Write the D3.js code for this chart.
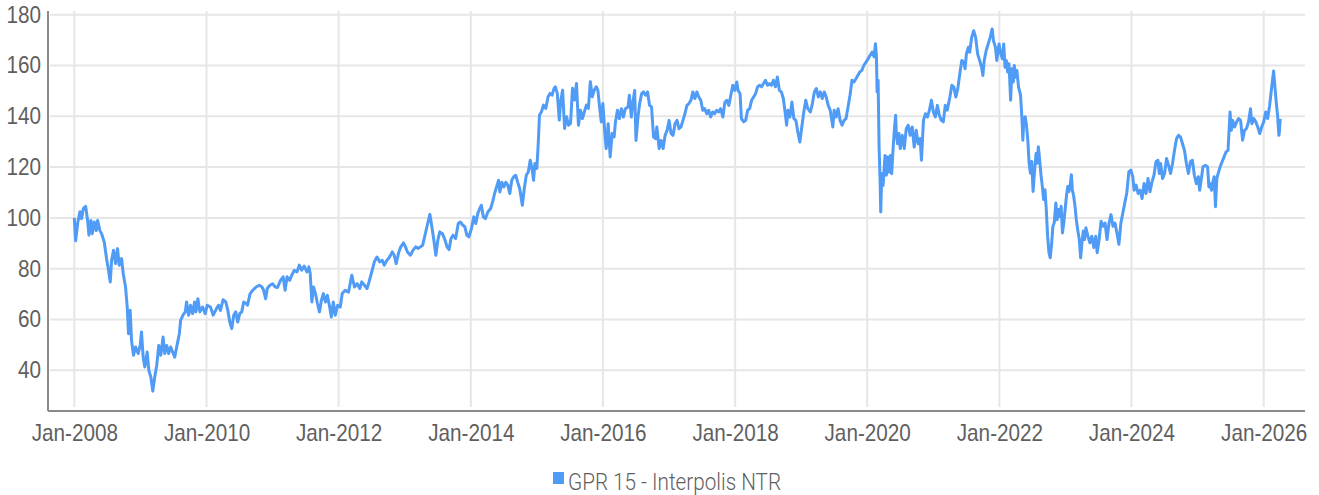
<!DOCTYPE html>
<html>
<head>
<meta charset="utf-8">
<script src="https://cdn.jsdelivr.net/npm/d3@7"></script>
<style>
  body { margin: 0; background: #fff; }
  svg { display: block; font-family: "Roboto", "Liberation Sans", sans-serif; font-weight: 300; }
</style>
</head>
<body>
<svg id="chart" width="1319" height="495"></svg>
<script>
// Series name for the legend
const SERIES_NAME = "GPR 15 - Interpolis NTR";

// Dates as decimal years
const years = [
  2008.00, 2008.02, 2008.05, 2008.085, 2008.11, 2008.136, 2008.171, 2008.201, 2008.221, 2008.251,
  2008.271, 2008.302, 2008.332, 2008.352, 2008.387, 2008.412, 2008.452, 2008.487, 2008.513, 2008.543,
  2008.563, 2008.593, 2008.623, 2008.653, 2008.678, 2008.714, 2008.739, 2008.774, 2008.799, 2008.819,
  2008.844, 2008.864, 2008.894, 2008.925, 2008.965, 2008.995, 2009.015, 2009.040, 2009.065, 2009.101,
  2009.126, 2009.156, 2009.186, 2009.216, 2009.246, 2009.276, 2009.307, 2009.342, 2009.367, 2009.397,
  2009.427, 2009.457, 2009.487, 2009.518, 2009.558, 2009.588, 2009.608, 2009.643, 2009.678, 2009.698,
  2009.729, 2009.759, 2009.789, 2009.819, 2009.839, 2009.869, 2009.899, 2009.940, 2009.980, 2010.01,
  2010.060, 2010.101, 2010.151, 2010.181, 2010.211, 2010.251, 2010.291, 2010.322, 2010.352, 2010.382,
  2010.412, 2010.442, 2010.472, 2010.503, 2010.533, 2010.563, 2010.603,
  2010.62, 2010.66, 2010.70, 2010.75, 2010.80, 2010.84, 2010.865, 2010.895, 2010.92, 2010.96,
  2011.00, 2011.04, 2011.075, 2011.12, 2011.16, 2011.19, 2011.22, 2011.26, 2011.29, 2011.33,
  2011.37, 2011.405, 2011.44, 2011.48, 2011.52, 2011.55, 2011.57, 2011.595, 2011.62, 2011.65,
  2011.68, 2011.71, 2011.74, 2011.77, 2011.80, 2011.83, 2011.865, 2011.89, 2011.92, 2011.95,
  2011.985, 2012.025, 2012.055, 2012.10, 2012.15, 2012.20, 2012.24, 2012.28, 2012.32, 2012.35,
  2012.39, 2012.43, 2012.46, 2012.50, 2012.54, 2012.58, 2012.62, 2012.66, 2012.69, 2012.73,
  2012.77, 2012.81, 2012.84, 2012.87, 2012.91, 2012.94, 2012.98, 2013.01, 2013.04, 2013.085,
  2013.125, 2013.165, 2013.205,
  2013.27, 2013.30, 2013.34, 2013.38, 2013.41, 2013.44, 2013.47, 2013.50, 2013.53, 2013.57,
  2013.61, 2013.64, 2013.67, 2013.70, 2013.73, 2013.77, 2013.81, 2013.84, 2013.88, 2013.91,
  2013.94, 2013.97, 2014.01, 2014.045, 2014.075, 2014.105, 2014.135, 2014.16, 2014.19, 2014.22,
  2014.26, 2014.30, 2014.33, 2014.36, 2014.39, 2014.42, 2014.44, 2014.47, 2014.50, 2014.53,
  2014.56, 2014.59, 2014.62, 2014.65, 2014.68, 2014.71, 2014.74, 2014.78, 2014.81, 2014.84,
  2014.87, 2014.90, 2014.93, 2014.95, 2014.97, 2015.00, 2015.02, 2015.04, 2015.07, 2015.10,
  2015.135, 2015.17, 2015.20, 2015.23, 2015.26, 2015.28, 2015.31, 2015.34, 2015.36, 2015.39,
  2015.42, 2015.45, 2015.48, 2015.51, 2015.54, 2015.57, 2015.60, 2015.63, 2015.66, 2015.69,
  2015.72, 2015.75, 2015.78, 2015.81, 2015.84, 2015.87,
  2015.90, 2015.925, 2015.95, 2015.975, 2016.00, 2016.03, 2016.05, 2016.08, 2016.11, 2016.14,
  2016.17, 2016.19, 2016.22, 2016.25, 2016.28, 2016.31, 2016.34, 2016.38, 2016.40, 2016.43,
  2016.45, 2016.48, 2016.50, 2016.53, 2016.555, 2016.585, 2016.615, 2016.645, 2016.675, 2016.705,
  2016.735, 2016.765, 2016.795, 2016.815, 2016.85, 2016.88, 2016.91, 2016.94, 2016.97, 2017.00,
  2017.03, 2017.06, 2017.09, 2017.12, 2017.15, 2017.18, 2017.21, 2017.24, 2017.27, 2017.30,
  2017.33, 2017.36, 2017.39, 2017.42, 2017.45, 2017.48, 2017.51, 2017.54, 2017.57, 2017.60,
  2017.63, 2017.66, 2017.69, 2017.72, 2017.75, 2017.78, 2017.815, 2017.845, 2017.875, 2017.905,
  2017.935, 2017.965, 2017.995, 2018.025, 2018.045, 2018.075, 2018.095, 2018.13, 2018.16, 2018.19,
  2018.22, 2018.25, 2018.28, 2018.31, 2018.34, 2018.37, 2018.40, 2018.43, 2018.46, 2018.49,
  2018.52,
  2018.55, 2018.58, 2018.61, 2018.64, 2018.67, 2018.70, 2018.73, 2018.76, 2018.78, 2018.80,
  2018.83, 2018.86, 2018.89, 2018.92, 2018.95, 2018.98, 2019.01, 2019.04, 2019.07, 2019.10,
  2019.14, 2019.17, 2019.20, 2019.23, 2019.26, 2019.29, 2019.32, 2019.35, 2019.38, 2019.41,
  2019.44, 2019.46, 2019.48, 2019.50, 2019.53, 2019.56, 2019.59, 2019.62, 2019.65, 2019.68,
  2019.71, 2019.74, 2019.77, 2019.80, 2019.83, 2019.86, 2019.89, 2019.92, 2019.95, 2019.985,
  2020.015, 2020.045, 2020.075, 2020.105, 2020.125, 2020.14, 2020.15, 2020.165, 2020.18, 2020.195,
  2020.205, 2020.22, 2020.24, 2020.27, 2020.29, 2020.31, 2020.33, 2020.35, 2020.37, 2020.39,
  2020.41, 2020.43, 2020.44, 2020.46, 2020.48, 2020.50, 2020.53, 2020.56, 2020.59, 2020.62,
  2020.65, 2020.68, 2020.71, 2020.74, 2020.77, 2020.80, 2020.82, 2020.85, 2020.88, 2020.91,
  2020.94, 2020.97, 2021.00, 2021.03, 2021.06, 2021.09, 2021.12, 2021.15, 2021.18, 2021.21,
  2021.25, 2021.28, 2021.31, 2021.34, 2021.37, 2021.40, 2021.43, 2021.46, 2021.48, 2021.50,
  2021.53, 2021.55, 2021.58, 2021.61, 2021.64, 2021.67, 2021.70, 2021.73, 2021.75, 2021.77,
  2021.80, 2021.83, 2021.86, 2021.89, 2021.91, 2021.94, 2021.96, 2021.995, 2022.015, 2022.045,
  2022.065, 2022.085, 2022.105, 2022.125, 2022.145, 2022.17, 2022.19, 2022.21, 2022.225, 2022.245,
  2022.265, 2022.29, 2022.32, 2022.34, 2022.355, 2022.37, 2022.39, 2022.41, 2022.43, 2022.45,
  2022.47, 2022.49, 2022.51, 2022.53, 2022.555, 2022.57, 2022.59, 2022.61, 2022.63, 2022.65,
  2022.67, 2022.69, 2022.71, 2022.73, 2022.75, 2022.77, 2022.79, 2022.81, 2022.83, 2022.855,
  2022.875, 2022.895, 2022.915, 2022.935, 2022.955, 2022.975, 2022.995, 2023.015, 2023.035, 2023.055,
  2023.075, 2023.09, 2023.105, 2023.125, 2023.145, 2023.165, 2023.185, 2023.21, 2023.23, 2023.25,
  2023.27, 2023.29, 2023.31, 2023.34, 2023.37, 2023.40, 2023.43, 2023.46, 2023.48, 2023.51,
  2023.54, 2023.57, 2023.60, 2023.63, 2023.66, 2023.69, 2023.72, 2023.75, 2023.78, 2023.81,
  2023.84, 2023.87, 2023.90, 2023.93, 2023.96, 2023.99,
  2024.02, 2024.04, 2024.07, 2024.10, 2024.13, 2024.16, 2024.19, 2024.22, 2024.25, 2024.28,
  2024.31, 2024.34, 2024.37, 2024.40, 2024.42, 2024.44, 2024.47, 2024.50, 2024.53, 2024.56,
  2024.59, 2024.62, 2024.65, 2024.68, 2024.71, 2024.74, 2024.77, 2024.80, 2024.83, 2024.86,
  2024.89, 2024.92, 2024.95, 2024.98, 2025.01, 2025.03, 2025.06, 2025.08, 2025.12, 2025.15,
  2025.17, 2025.19, 2025.21, 2025.23, 2025.25, 2025.27, 2025.29, 2025.31, 2025.34, 2025.37,
  2025.40, 2025.43, 2025.46, 2025.49, 2025.51, 2025.53, 2025.56, 2025.59, 2025.62, 2025.65,
  2025.68, 2025.71, 2025.74, 2025.77, 2025.80, 2025.82, 2025.85, 2025.88, 2025.91, 2025.94,
  2025.97, 2026.00, 2026.03, 2026.06, 2026.09, 2026.11, 2026.13, 2026.15, 2026.17, 2026.19,
  2026.21, 2026.23, 2026.24, 2026.25
];

// Index values
const values = [
  100, 91, 97.8, 102.4, 99.7, 103.7, 104.6, 99, 93.2, 99,
  93.8, 98.4, 95, 99, 95, 93.8, 90.5, 84, 80, 74.8,
  83.3, 87.3, 82, 87.9, 81.4, 84, 78, 72.8, 65, 54.4,
  63.6, 51.8, 45.9, 49.2, 46.6, 49.8, 55.1, 45.2, 41.3, 47.2,
  40, 37.4, 31.8, 37.4, 42, 49.8, 45.9, 53.1, 46.6, 49.8,
  46.6, 49.2, 47.2, 45.2, 50.5, 54.4, 59.7, 61.7, 63, 66.9,
  61.7, 65.6, 62.3, 66.9, 63, 68.2, 63, 64.9, 62.3, 65.6,
  64.9, 61.7, 64.3, 65.6, 63.6, 67.8, 66.9, 63.6, 59, 56.4,
  61.7, 63, 59, 62.3, 63, 66.9, 66.3,
  65.6, 70.2, 71.5, 72.8, 73.5, 72.8, 71.5, 68.2, 72.2, 73.5,
  74.1, 72.8, 72.6, 75.4, 76.8, 71.5, 76.8, 75.4, 77.4, 79.4,
  78.7, 81.4, 79.4, 81, 78.7, 80.7, 78.1, 66.9, 72.8, 70.2,
  66.3, 63, 67.6, 70.2, 66.9, 69.5, 64.9, 61, 66.9, 61.7,
  65.6, 64.9, 70.2, 71.5, 70.8, 77.4, 72.8, 74.1, 72.2, 74.8,
  73.5, 72.2, 74.8, 78.7, 82.7, 84.6, 82.7, 83.3, 81.4, 83.3,
  84.6, 86.6, 85.3, 82, 86.6, 88.6, 90.2, 88.6, 86.6, 85.3,
  87.3, 88.6, 88,
  89.2, 92.5, 97.1, 101.4, 96.5, 91.2, 85.3, 91.2, 94.5, 93.8,
  91.2, 88.6, 87.5, 91.9, 93.2, 91.9, 97.8, 98.4, 97.1, 96.5,
  93.2, 92.5, 95.8, 100.4, 97.8, 101.7, 103.7, 105, 100.4, 99.7,
  102.4, 103.7, 106.3, 109.6, 112.2, 114.8, 110.2, 114, 112.2, 114,
  112.9, 109.6, 114.8, 116.2, 116.8, 114, 111.6, 105, 111.6, 116.8,
  118.1, 122.7, 118.8, 114.8, 121.4, 119.5, 128.7, 140.5, 141.8, 144.4,
  143.1, 147.7, 149, 148.3, 151, 151.6, 149, 138.5, 145.7, 150.3,
  135.2, 139.8, 136.5, 137.2, 151, 146.4, 152.9, 136.5, 142.4, 139.1,
  141.8, 144.4, 143.1, 153.6, 147.7, 150.3,
  151.6, 150.2, 143.7, 137.8, 145, 133.2, 127.3, 137.1, 124, 133.2,
  131.9, 137.8, 142.4, 139.1, 143, 139.7, 143, 143.7, 148.3, 139.7,
  145, 150.2, 130.5, 139.7, 145, 148.9, 149.6, 148.3, 149.6, 144.3,
  143.7, 131.9, 131.2, 135.8, 127.3, 130.5, 127.3, 132.5, 134.5, 138.4,
  133.2, 132.5, 137.1, 138.4, 135.1, 135.8, 138.4, 141, 144.3, 145,
  146.3, 149.6, 147, 149.6, 147.6, 146.3, 142.4, 143, 141, 142.4,
  139.7, 141.7, 141, 142.4, 141.7, 143, 139.7, 145.6, 146.3, 144.3,
  148.3, 152.2, 150.2, 153.5, 150.2, 148.9, 139.1, 137.8, 138.4, 142.4,
  143, 146.3, 147.6, 148.9, 151.6, 152.2, 151.6, 152.9, 154.2, 152.2,
  152.9,
  152.2, 154.2, 151.6, 155.5, 150.2, 149.6, 147, 141, 136.5, 142.4,
  139.7, 145.6, 139.1, 138.4, 133.8, 129.9, 135.8, 141.7, 146.3, 143,
  141.7, 145, 149.6, 150.9, 147.6, 149.6, 147, 149.6, 147.6, 144.3,
  142.4, 139.1, 135.8, 142.4, 139.7, 143, 138.4, 136.5, 138.4, 139.1,
  143.7, 148.3, 154.2, 153.5, 154.8, 156.2, 157.5, 158.1, 160.1, 161.4,
  162.7, 164, 165.3, 163.4, 168.6, 163.4, 149.6, 154.2, 127.9, 114.8,
  102.3, 117.4, 112.8, 124.6, 116.8, 124, 118.1, 124.6, 117.4, 126.6,
  134.5, 140.4, 133.2, 129.2, 133.2, 127.3, 132.5, 127.3, 135.1, 136.5,
  132.5, 135.8, 127.9, 134.5, 129.2, 131.2, 122.7, 138.4, 141, 139.7,
  142.4, 146.3, 141.7, 139.7, 144.3, 140.4, 138.4, 137.8, 144.3, 142.4,
  147.6, 152.2, 151.5, 147.6, 150.9, 156.7, 162, 161.3, 158.7, 164.6,
  167.2, 165.2, 171.1, 173.7, 171.1, 164.6, 162, 159.3, 156.1, 162,
  165.9, 168.5, 171.1, 174.4, 169.8, 167.2, 162, 168.5, 165.2, 162.6,
  168.5, 159.3, 162, 157.4, 160.7, 146.3, 158.7, 153.5, 160, 155.4,
  158, 151.5, 148.3, 139.8, 130.6, 138.5, 139.8, 136.5, 130.6, 121.5,
  117.6, 122.2, 110.4, 117.6, 125.4, 121.5, 128, 122.8, 116.9, 112.4,
  107.2, 111.1, 103.3, 92.8, 86.3, 84.3, 89.6, 96.7, 98, 105.9,
  99.3, 103.3, 100.6, 104.6, 94.1, 98, 103.3, 108.5, 112.4, 110.4,
  113.7, 117, 111.1, 108.5, 104.6, 99.3, 95.4, 91.5, 84.3, 90.2,
  94.8, 91.5, 96.1, 92.8, 90.2, 92.8, 88.3, 92.8, 86.3, 91.5,
  98.7, 96.7, 98, 91.5, 98, 101.3, 96.7, 98, 94.1, 89.6,
  98, 102, 106, 110, 118.1, 118.8,
  116.2, 110.9, 112.9, 109.6, 110.9, 107.6, 113.5, 109.6, 115.5, 110.3,
  114.2, 116.8, 122.1, 122.7, 117.5, 121.4, 115.5, 117.5, 123.4, 120.7,
  117.5, 121.4, 126.6, 131.2, 132.5, 131.9, 129.3, 126.6, 121.4, 117.5,
  122.1, 122.7, 116.8, 113.5, 116.2, 110.9, 116.2, 120.1, 120.7, 120.1,
  112.2, 113.5, 110.9, 114.2, 116.2, 104.4, 115.5, 117.5, 120.1, 122.1,
  124, 126, 126.6, 141.7, 134.5, 138.4, 135.8, 137.8, 139.1, 138.4,
  130.6, 134.5, 135.2, 137.8, 143, 137.1, 139.1, 137.8, 135.8, 133.2,
  135.8, 137.8, 141.7, 139.1, 144.3, 148.9, 153.5, 157.8, 151.5, 145.6,
  140.4, 132.5, 134.5, 139.1
];

// Axis ticks
const yTicks = [40, 60, 80, 100, 120, 140, 160, 180];
const xTickYears = [2008, 2010, 2012, 2014, 2016, 2018, 2020, 2022, 2024, 2026];

const WIDTH = 1319;
const HEIGHT = 495;
const PLOT_LEFT = 48;
const PLOT_RIGHT = 1305;
const PLOT_TOP = 11;
const PLOT_BOTTOM = 411;

// Text is squeezed a little to look like the narrow face of the original
const SQUEEZE = 0.9;

const LINE_COLOR = "#4f9bf6";
const GRID_COLOR = "#e6e6e6";
const AXIS_COLOR = "#8a8a8a";
const TEXT_COLOR = "#5f5f5f";

// Decimal year -> UTC date
const toDate = (yr) => {
  const y0 = Math.floor(yr);
  const start = Date.UTC(y0, 0, 1);
  const end = Date.UTC(y0 + 1, 0, 1);
  return new Date(start + (yr - y0) * (end - start));
};

const data = years.map((yr, i) => ({ date: toDate(yr), value: values[i] }));

const x = d3
  .scaleUtc()
  .domain([new Date(Date.UTC(2008, 0, 1)), new Date(Date.UTC(2026, 0, 1))])
  .range([74.3, 1263.7]);

const y = d3.scaleLinear().domain([40, 180]).range([370.3, 14.7]);

const svg = d3.select("#chart");

svg.append("rect").attr("width", WIDTH).attr("height", HEIGHT).attr("fill", "#fff");

// Horizontal gridlines
svg
  .append("g")
  .selectAll("line")
  .data(yTicks)
  .enter()
  .append("line")
  .attr("x1", PLOT_LEFT + 2)
  .attr("x2", PLOT_RIGHT)
  .attr("y1", (d) => y(d))
  .attr("y2", (d) => y(d))
  .style("stroke", GRID_COLOR)
  .style("stroke-width", "2px");

// Vertical gridlines
const xTicks = xTickYears.map((yr) => new Date(Date.UTC(yr, 0, 1)));
svg
  .append("g")
  .selectAll("line")
  .data(xTicks)
  .enter()
  .append("line")
  .attr("x1", (d) => x(d))
  .attr("x2", (d) => x(d))
  .attr("y1", PLOT_TOP)
  .attr("y2", PLOT_BOTTOM - 4)
  .style("stroke", GRID_COLOR)
  .style("stroke-width", "2px");

// Y axis labels
const yAxis = d3.axisLeft(y).tickValues(yTicks).tickSize(0).tickPadding(7);
const gy = svg.append("g").attr("transform", `translate(${PLOT_LEFT},0)`).call(yAxis);
gy.select(".domain").remove();
gy.selectAll("text")
  .attr("x", -7 / SQUEEZE)
  .attr("transform", `scale(${SQUEEZE},1)`)
  .style("font-family", "inherit")
  .style("font-size", "23px")
  .style("fill", TEXT_COLOR);

// X axis labels
const fmt = d3.utcFormat("%b-%Y");
const xAxis = d3.axisBottom(x).tickValues(xTicks).tickFormat(fmt).tickSize(0).tickPadding(14);
const gx = svg.append("g").attr("transform", `translate(0,${PLOT_BOTTOM})`).call(xAxis);
gx.select(".domain").remove();
gx.selectAll("text")
  .attr("transform", `scale(${SQUEEZE},1)`)
  .style("font-family", "inherit")
  .style("font-size", "23px")
  .style("fill", TEXT_COLOR);

// Axis lines
svg
  .append("line")
  .attr("x1", PLOT_LEFT)
  .attr("x2", PLOT_LEFT)
  .attr("y1", PLOT_TOP)
  .attr("y2", PLOT_BOTTOM)
  .style("stroke", AXIS_COLOR)
  .style("stroke-width", "2px");
svg
  .append("line")
  .attr("x1", PLOT_LEFT)
  .attr("x2", PLOT_RIGHT)
  .attr("y1", PLOT_BOTTOM)
  .attr("y2", PLOT_BOTTOM)
  .style("stroke", AXIS_COLOR)
  .style("stroke-width", "2px");

// The series
const line = d3
  .line()
  .x((d) => x(d.date))
  .y((d) => y(d.value));

svg
  .append("path")
  .datum(data)
  .attr("d", line)
  .attr("fill", "none")
  .style("stroke", LINE_COLOR)
  .style("stroke-width", "3px")
  .style("stroke-linejoin", "round");

// Legend
const legend = svg.append("g").attr("transform", "translate(553,472)");
legend.append("rect").attr("width", 11).attr("height", 12).attr("fill", LINE_COLOR);
legend
  .append("g")
  .attr("transform", `translate(15,18) scale(${SQUEEZE},1)`)
  .append("text")
  .style("font-size", "23px")
  .style("fill", TEXT_COLOR)
  .text(SERIES_NAME);
</script>
</body>
</html>
